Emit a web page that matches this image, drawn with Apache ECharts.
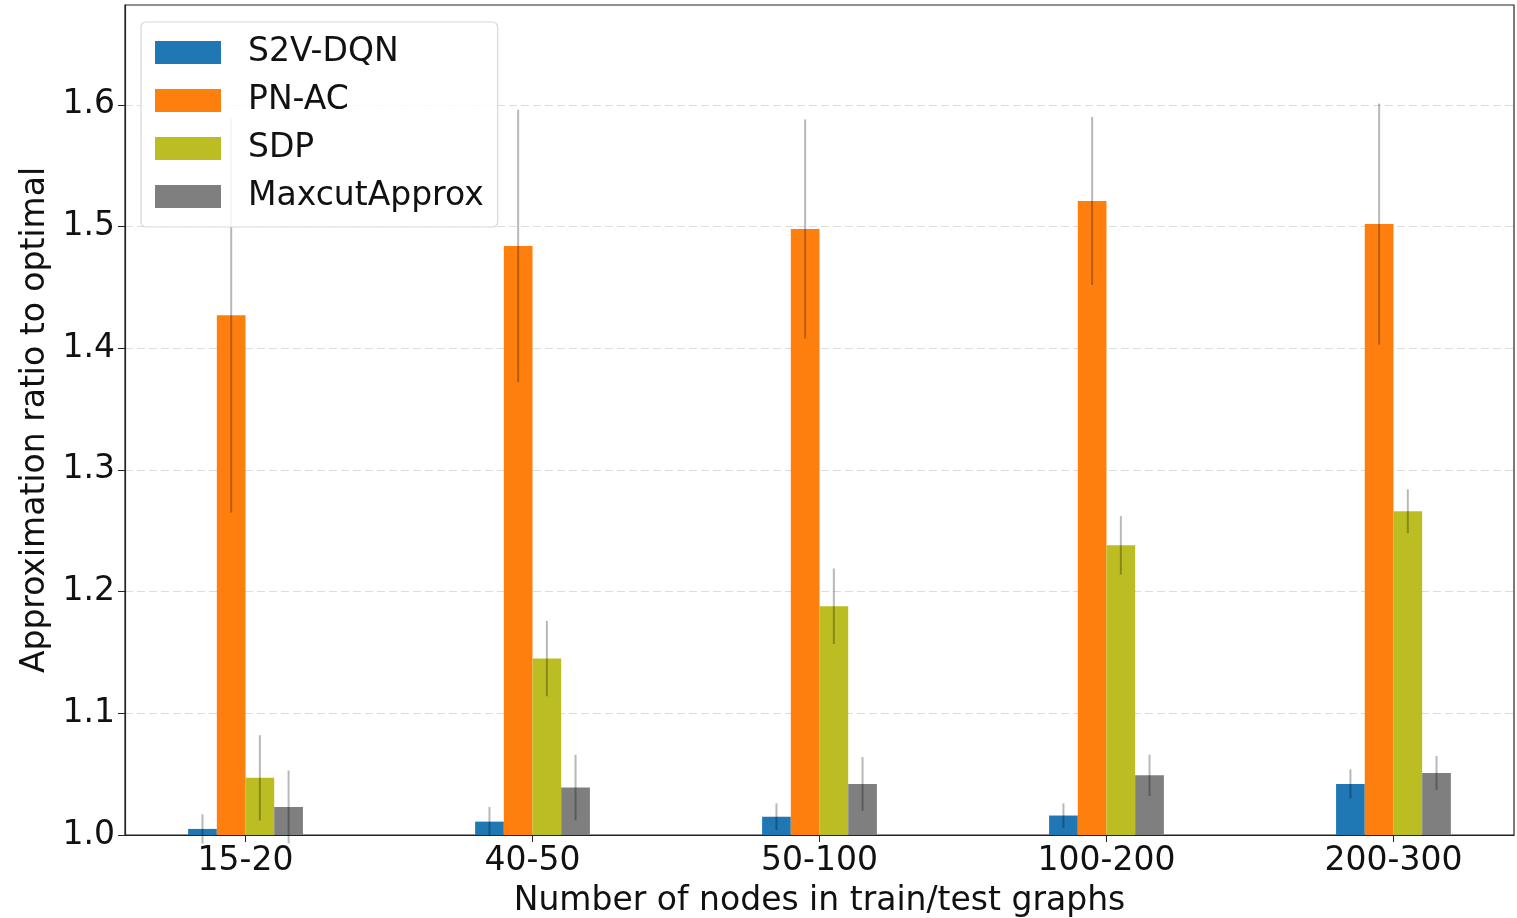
<!DOCTYPE html>
<html>
<head>
<meta charset="utf-8">
<script src="https://cdn.jsdelivr.net/npm/echarts@6/dist/echarts.min.js"></script>
<style>html,body{margin:0;padding:0;background:#fff;}#chart{width:1517px;height:918px;}</style>
</head>
<body>
<div id="chart"></div>
<script>
const categories = ['15-20', '40-50', '50-100', '100-200', '200-300'];
const seriesNames = ['S2V-DQN', 'PN-AC', 'SDP', 'MaxcutApprox'];
const s2vDqn = [1.005, 1.011, 1.015, 1.016, 1.042];
const s2vDqnErr = [0.012, 0.012, 0.011, 0.010, 0.012];
const pnAc = [1.427, 1.484, 1.498, 1.521, 1.502];
const pnAcErr = [0.162, 0.112, 0.090, 0.069, 0.099];
const sdp = [1.047, 1.145, 1.188, 1.238, 1.266];
const sdpErr = [0.035, 0.031, 0.031, 0.024, 0.018];
const maxcut = [1.023, 1.039, 1.042, 1.049, 1.051];
const maxcutErr = [0.030, 0.027, 0.022, 0.017, 0.014];
const yTicks = [1.0, 1.1, 1.2, 1.3, 1.4, 1.5, 1.6];

const colors = ['#1f77b4', '#ff7f0e', '#bcbd22', '#7f7f7f'];
const values = [s2vDqn, pnAc, sdp, maxcut];
const errs = [s2vDqnErr, pnAcErr, sdpErr, maxcutErr];
const barW = 0.1;
const offsets = [-0.15, -0.05, 0.05, 0.15];
const FONT = 'DejaVu Sans';
const FS = 33;

const chart = echarts.init(document.getElementById('chart'));

function makeSeries(k) {
  return {
    name: seriesNames[k],
    type: 'custom',
    itemStyle: { color: colors[k] },
    encode: { x: 0, y: 1 },
    data: categories.map((c, i) => [i + offsets[k], values[k][i], errs[k][i]]),
    renderItem: function (params, api) {
      const x = api.value(0), y = api.value(1), e = api.value(2);
      const pTop = api.coord([x - barW / 2, y]);
      const pBot = api.coord([x + barW / 2, 1.0]);
      const eTop = api.coord([x, y + e]);
      const eBot = api.coord([x, y - e]);
      return {
        type: 'group',
        children: [
          {
            type: 'rect',
            shape: { x: pTop[0], y: pTop[1], width: pBot[0] - pTop[0], height: pBot[1] - pTop[1] },
            style: { fill: colors[k] }
          },
          {
            type: 'line',
            shape: { x1: eTop[0], y1: eTop[1], x2: eBot[0], y2: eBot[1] },
            style: { stroke: 'rgba(0,0,0,0.28)', lineWidth: 2 }
          }
        ]
      };
    }
  };
}

const option = {
  animation: false,
  color: colors,
  grid: { left: 125, top: 5, right: 3, bottom: 83, outerBoundsMode: 'none', containLabel: false, show: true, borderColor: '#222', borderWidth: 1.2, backgroundColor: 'transparent' },
  legend: {
    orient: 'vertical',
    left: 141, top: 22,
    padding: [14, 14, 14, 14],
    itemWidth: 66, itemHeight: 23, itemGap: 15,
    icon: 'rect',
    backgroundColor: 'rgba(255,255,255,0.85)',
    borderColor: '#d8d8d8', borderWidth: 1.2, borderRadius: 5,
    textStyle: { fontFamily: FONT, fontSize: FS, color: '#111', padding: [0, 0, 0, 22] },
    data: seriesNames.map((n, k) => ({ name: n, itemStyle: { color: colors[k] } }))
  },
  xAxis: {
    type: 'value',
    min: -0.42, max: 4.42,
    name: 'Number of nodes in train/test graphs',
    nameLocation: 'middle', nameGap: 50,
    nameTextStyle: { fontFamily: FONT, fontSize: FS, color: '#111' },
    axisLine: { show: true, onZero: false, lineStyle: { color: '#222', width: 1.2 } },
    axisTick: { show: true, length: 7, lineStyle: { color: '#222' }, customValues: [0, 1, 2, 3, 4] },
    axisLabel: { customValues: [0, 1, 2, 3, 4], formatter: v => categories[Math.round(v)], fontFamily: FONT, fontSize: FS, color: '#111', margin: 10 },
    splitLine: { show: false }
  },
  yAxis: {
    type: 'value',
    min: 1.0, max: 1.682, interval: 0.1,
    name: 'Approximation ratio to optimal',
    nameLocation: 'middle', nameGap: 72,
    nameTextStyle: { fontFamily: FONT, fontSize: FS, color: '#111' },
    axisLine: { show: true, onZero: false, lineStyle: { color: '#222', width: 1.2 } },
    axisTick: { show: true, length: 7, lineStyle: { color: '#222' }, customValues: yTicks },
    axisLabel: { customValues: yTicks, formatter: v => v.toFixed(1), fontFamily: FONT, fontSize: FS, color: '#111', margin: 10 },
    splitLine: { show: true, lineStyle: { color: '#dcdcdc', type: [8, 4], width: 1.2 } }
  },
  series: [0, 1, 2, 3].map(makeSeries)
};
chart.setOption(option);
</script>
</body>
</html>
